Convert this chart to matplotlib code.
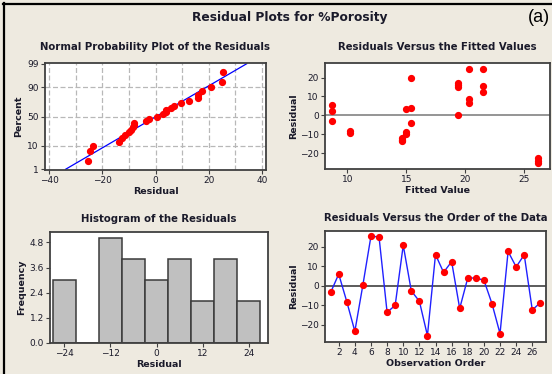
import matplotlib
matplotlib.use("Agg")
import matplotlib.pyplot as plt
from matplotlib.lines import Line2D
import numpy as np
from statistics import NormalDist

# ---------------- data ----------------
residuals = [-3.4, 6.0, -8.1, -23.3, 0.5, 25.5, 25.0, -13.6, -10.0, 20.8,
             -2.6, -7.9, -25.5, 16.0, 6.9, 12.4, -11.6, 4.0, 4.0, 2.9,
             -9.1, -24.5, 17.6, 9.7, 15.9, -12.4, -8.6]
observation = list(range(1, 28))

fitted_values = [8.7, 8.7, 8.7, 10.2, 10.2, 14.6, 14.6, 14.6, 15.0, 15.0, 15.0,
                 15.4, 15.4, 15.4, 19.4, 19.4, 19.4, 19.4, 20.3, 20.3, 20.3,
                 21.5, 21.5, 21.5, 26.2, 26.2, 26.2]
fitted_resid = [5.7, 2.5, -3.0, -8.4, -9.4, -12.0, -13.0, -13.6, 3.5, -9.0, -10.0,
                20.0, 4.0, -4.1, 17.0, 16.0, 15.2, 0.0, 24.6, 8.7, 6.5,
                24.6, 15.4, 12.2, -22.7, -24.2, -25.3]

hist_bin_edges = [-27, -21, -15, -9, -3, 3, 9, 15, 21, 27]

prob_ticks = [1, 10, 50, 90, 99]
prob_grid = [10, 50, 90]
nx_ticks = [-40, -20, 0, 20, 40]
fit_xticks = [10, 15, 20, 25]
resid_ticks = [-20, -10, 0, 10, 20]
hist_xticks = [-24, -12, 0, 12, 24]
hist_yticks = [0.0, 1.2, 2.4, 3.6, 4.8]
order_xticks = list(range(2, 27, 2))

# ---------------- style ----------------
W, H = 552, 374
BG = "#EEEAE0"
FRAME = "#404040"
TXT = "#1a1a2a"
RED = "#FF0000"
BLUE = "#0000FF"
FONT = "DejaVu Sans"
plt.rcParams["font.family"] = FONT

fig = plt.figure(figsize=(W / 100, H / 100), dpi=100, facecolor=BG)


def px_axes(l, t, r, b):
    return fig.add_axes([l / W, 1 - b / H, (r - l) / W, (b - t) / H])


def style(ax):
    ax.set_facecolor("white")
    for s in ax.spines.values():
        s.set_color(FRAME)
        s.set_linewidth(1.3)
    ax.tick_params(labelsize=6.5, colors=FRAME, labelcolor=TXT, length=3,
                   width=0.8, pad=1.5)


TS = 7.3   # subplot title size
LS = 6.8   # axis label size
PAD_TOP = 9.5
PAD_BOT = 7.0

# ---------- Normal probability plot ----------
nd = NormalDist()
ax1 = px_axes(45, 63, 266, 170)
style(ax1)
n = len(residuals)
srt = np.sort(residuals)
pp = [(i + 1 - 0.3) / (n + 0.4) for i in range(n)]
zz = [nd.inv_cdf(p) for p in pp]
mu = float(np.mean(residuals))
sd = float(np.std(residuals, ddof=1))
zlo, zhi = nd.inv_cdf(0.01), nd.inv_cdf(0.99)
for gx in range(-40, 41, 10):
    ax1.axvline(gx, color="#B8B8B8", lw=0.9, ls=(0, (4, 2)), zorder=0)
for gp in prob_grid:
    ax1.axhline(nd.inv_cdf(gp / 100), color="#B8B8B8", lw=0.9, ls=(0, (4, 2)), zorder=0)
ax1.plot([mu + sd * zlo, mu + sd * zhi], [zlo, zhi], color=BLUE, lw=0.9, zorder=2)
ax1.plot(srt, zz, "o", color=RED, ms=4.2, zorder=3)
ax1.set_xlim(-41.5, 41.5)
ax1.set_ylim(zlo - 0.03, zhi + 0.03)
ax1.set_xticks(nx_ticks)
ax1.set_yticks([nd.inv_cdf(p / 100) for p in prob_ticks])
ax1.set_yticklabels([str(p) for p in prob_ticks])
ax1.set_title("Normal Probability Plot of the Residuals", fontsize=TS,
              fontweight="bold", color=TXT, pad=PAD_TOP)
ax1.set_xlabel("Residual", fontsize=LS, fontweight="bold", color=TXT, labelpad=1)
ax1.set_ylabel("Percent", fontsize=LS, fontweight="bold", color=TXT, labelpad=3)

# ---------- Residuals vs fitted ----------
ax2 = px_axes(325, 63, 550, 169)
style(ax2)
ax2.axhline(0, color="#8C8C8C", lw=1.3, zorder=1)
ax2.plot(fitted_values, fitted_resid, "o", color=RED, ms=4.2, zorder=3)
ax2.set_xlim(8.1, 27.2)
ax2.set_ylim(-28.4, 27.7)
ax2.set_xticks(fit_xticks)
ax2.set_yticks(resid_ticks)
ax2.set_title("Residuals Versus the Fitted Values", fontsize=TS,
              fontweight="bold", color=TXT, pad=PAD_TOP)
ax2.set_xlabel("Fitted Value", fontsize=LS, fontweight="bold", color=TXT, labelpad=1)
ax2.set_ylabel("Residual", fontsize=LS, fontweight="bold", color=TXT, labelpad=1)

# ---------- Histogram ----------
ax3 = px_axes(50, 232, 268, 343)
style(ax3)
counts, edges = np.histogram(residuals, bins=hist_bin_edges)
centers = (np.array(edges[:-1]) + np.array(edges[1:])) / 2
widths = np.diff(edges)
ax3.bar(centers, counts, width=widths, color="#C0C0C0", edgecolor="#3A3A3A",
        linewidth=1.1, zorder=2)
ax3.set_xlim(-27.7, 29.0)
ax3.set_ylim(0, 5.3)
ax3.set_xticks(hist_xticks)
ax3.set_yticks(hist_yticks)
ax3.set_yticklabels([f"{v:.1f}" for v in hist_yticks])
ax3.set_title("Histogram of the Residuals", fontsize=TS,
              fontweight="bold", color=TXT, pad=PAD_BOT)
ax3.set_xlabel("Residual", fontsize=LS, fontweight="bold", color=TXT, labelpad=1)
ax3.set_ylabel("Frequency", fontsize=LS, fontweight="bold", color=TXT, labelpad=2)

# ---------- Residuals vs order ----------
ax4 = px_axes(325, 231, 546, 342)
style(ax4)
ax4.axhline(0, color="#404040", lw=1.2, zorder=1)
ax4.plot(observation, residuals, "-", color="#2020FF", lw=1.0, zorder=2)
ax4.plot(observation, residuals, "o", color=RED, ms=4.2, zorder=3)
ax4.set_xlim(0.3, 27.7)
ax4.set_ylim(-28.8, 28.1)
ax4.set_xticks(order_xticks)
ax4.set_yticks(resid_ticks)
ax4.set_title("Residuals Versus the Order of the Data", fontsize=TS,
              fontweight="bold", color=TXT, pad=PAD_BOT)
ax4.set_xlabel("Observation Order", fontsize=LS, fontweight="bold", color=TXT, labelpad=1)
ax4.set_ylabel("Residual", fontsize=LS, fontweight="bold", color=TXT, labelpad=1)

# ---------- figure-level text and border ----------
fig.text(290 / W, 1 - 17 / H, "Residual Plots for %Porosity", ha="center", va="center",
         fontsize=8.8, fontweight="bold", color=TXT)
fig.text(539 / W, 1 - 18 / H, "(a)", ha="center", va="center",
         fontsize=13, color="black", family="Liberation Sans")
fig.add_artist(Line2D([3 / W, 1], [1 - 4 / H, 1 - 4 / H], color="black", lw=1.6,
                      transform=fig.transFigure))
fig.add_artist(Line2D([4 / W, 4 / W], [0, 1 - 3 / H], color="black", lw=1.6,
                      transform=fig.transFigure))

fig.savefig("out.png", dpi=100, facecolor=BG)
